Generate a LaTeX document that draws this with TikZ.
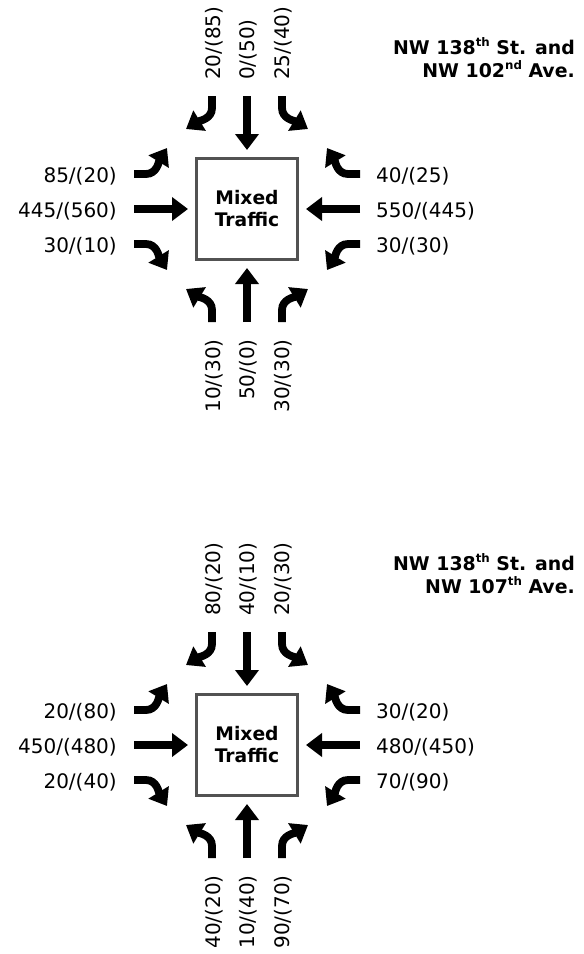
\documentclass[tikz,border=0pt]{standalone}
\usepackage{fontspec}
\setmainfont{DejaVu Sans}
\usetikzlibrary{arrows.meta}
\newcommand\supr[1]{\raisebox{0.45em}{\fontsize{11.8}{12}\selectfont #1}}
\tikzset{
  trafarrow/.style={line width=7.8pt,-{Triangle[width=23pt,length=16pt]}},
  mixbox/.style={draw=black!68,line width=3pt,minimum size=101pt,inner sep=0pt,
    align=center,font=\fontsize{18.7}{22}\selectfont\bfseries},
  vol/.style={inner sep=0pt,font=\fontsize{20}{24}\selectfont},
  title/.style={inner sep=0pt,align=right,font=\fontsize{18.9}{23}\selectfont\bfseries}
}
\newcommand\approacharrows[4]{% #1 cx, #2 cy, #3 rotation, #4 prefix
  \begin{scope}[shift={(#1,#2)},rotate=#3]
    \coordinate (#4Ls) at (-35,113); \coordinate (#4Lt) at (-61,80);
    \coordinate (#4Ts) at (0,113);   \coordinate (#4Tt) at (0,59);
    \coordinate (#4Rs) at (35,113);  \coordinate (#4Rt) at (61,80);
    \draw[trafarrow] (#4Ls) -- (-35,101) .. controls (-35,90) and (-48,88) .. (#4Lt);
    \draw[trafarrow] (#4Ts) -- (#4Tt);
    \draw[trafarrow] (#4Rs) -- (35,101) .. controls (35,90) and (48,88) .. (#4Rt);
  \end{scope}}
\begin{document}
\begin{tikzpicture}[x=1pt,y=1pt]
\fill[white] (0,0) rectangle (584,-954);
\useasboundingbox (0,0) rectangle (584,-954);

% ---------- first intersection ----------
\node[mixbox] (box1) at (247,-209) {Mixed\\Traffic};
\approacharrows{247}{-209}{0}{an}
\approacharrows{247}{-209}{90}{aw}
\approacharrows{247}{-209}{180}{as}
\approacharrows{247}{-209}{-90}{ae}
\node[title,anchor=north east] (t1) at (575,-37) {NW 138\supr{th} St. and\\NW 102\supr{nd} Ave.};
% top labels
\node[vol,rotate=90,anchor=west] (an1) at (214,-80) {20/(85)};
\node[vol,rotate=90,anchor=west] (an2) at (248,-80) {0/(50)};
\node[vol,rotate=90,anchor=west] (an3) at (283,-80) {25/(40)};
% left labels
\node[vol,anchor=east] (aw1) at (117,-176) {85/(20)};
\node[vol,anchor=east] (aw2) at (117,-211) {445/(560)};
\node[vol,anchor=east] (aw3) at (117,-246) {30/(10)};
% right labels
\node[vol,anchor=west] (ae1) at (376,-176) {40/(25)};
\node[vol,anchor=west] (ae2) at (376,-211) {550/(445)};
\node[vol,anchor=west] (ae3) at (376,-246) {30/(30)};
% bottom labels
\node[vol,rotate=90,anchor=east] (as1) at (214,-339) {10/(30)};
\node[vol,rotate=90,anchor=east] (as2) at (248,-339) {50/(0)};
\node[vol,rotate=90,anchor=east] (as3) at (283,-339) {30/(30)};

% ---------- second intersection ----------
\node[mixbox] (box2) at (247,-745) {Mixed\\Traffic};
\approacharrows{247}{-745}{0}{bn}
\approacharrows{247}{-745}{90}{bw}
\approacharrows{247}{-745}{180}{bs}
\approacharrows{247}{-745}{-90}{be}
\node[title,anchor=north east] (t2) at (575,-553) {NW 138\supr{th} St. and\\NW 107\supr{th} Ave.};
% top labels
\node[vol,rotate=90,anchor=west] (bn1) at (214,-616) {80/(20)};
\node[vol,rotate=90,anchor=west] (bn2) at (248,-616) {40/(10)};
\node[vol,rotate=90,anchor=west] (bn3) at (283,-616) {20/(30)};
% left labels
\node[vol,anchor=east] (bw1) at (117,-712) {20/(80)};
\node[vol,anchor=east] (bw2) at (117,-747) {450/(480)};
\node[vol,anchor=east] (bw3) at (117,-782) {20/(40)};
% right labels
\node[vol,anchor=west] (be1) at (376,-712) {30/(20)};
\node[vol,anchor=west] (be2) at (376,-747) {480/(450)};
\node[vol,anchor=west] (be3) at (376,-782) {70/(90)};
% bottom labels
\node[vol,rotate=90,anchor=east] (bs1) at (214,-875) {40/(20)};
\node[vol,rotate=90,anchor=east] (bs2) at (248,-875) {10/(40)};
\node[vol,rotate=90,anchor=east] (bs3) at (283,-875) {90/(70)};
\end{tikzpicture}
\end{document}
